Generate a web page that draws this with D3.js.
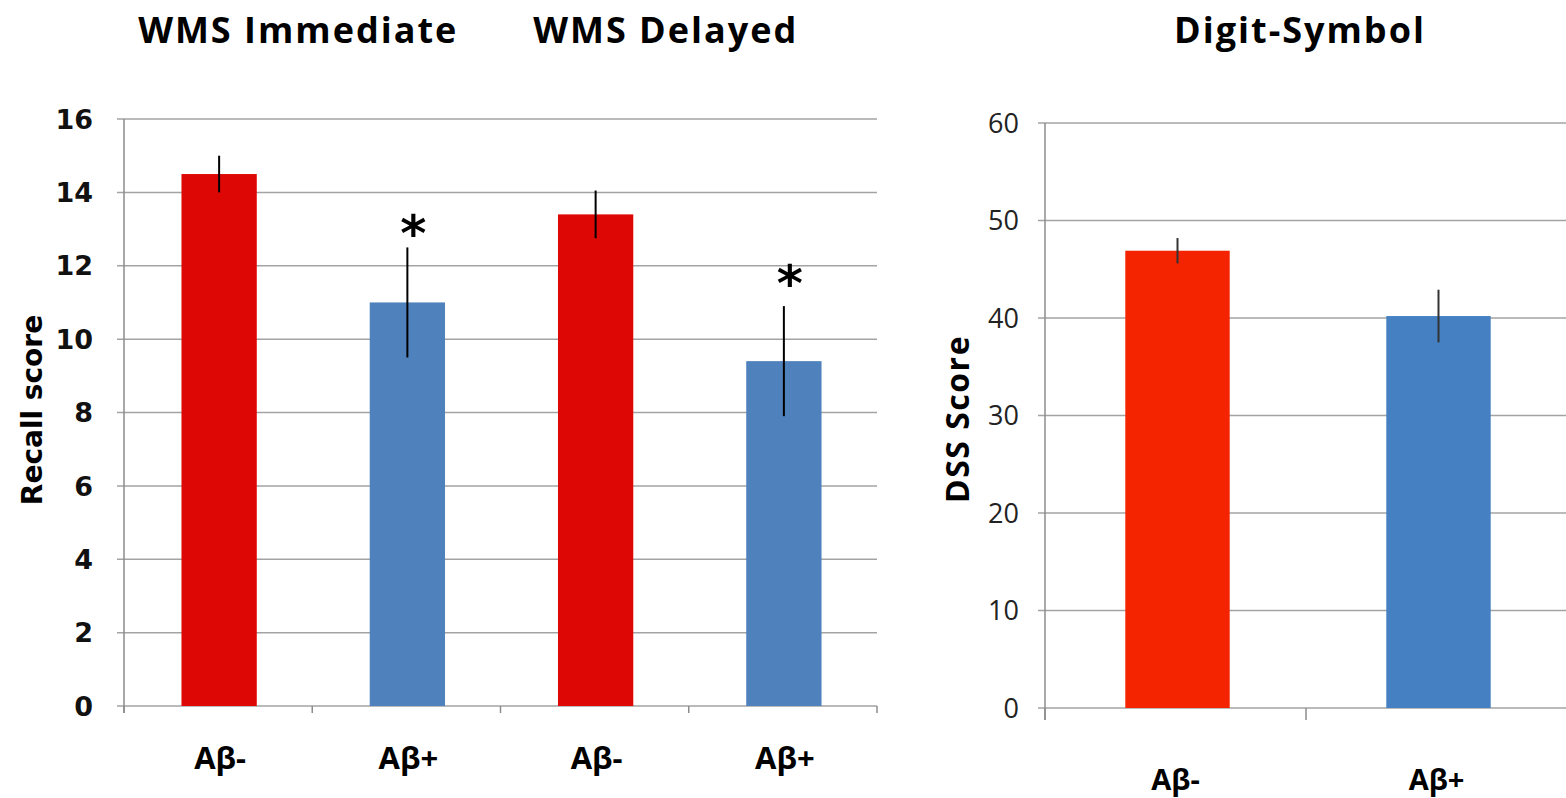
<!doctype html>
<html lang="en">
<head>
<meta charset="utf-8">
<title>WMS recall and Digit-Symbol scores</title>
<script src="https://cdnjs.cloudflare.com/ajax/libs/d3/7.8.5/d3.min.js"></script>
<style>
  body { margin: 0; background: #fff; }
  svg { display: block; }
  .grid line { stroke: #a3a3a3; stroke-width: 1.5; }
</style>
</head>
<body>
<svg width="1566" height="798"></svg>
<script>
// ---- data ----
// left panel: WMS recall
var recallGroups = ["WMS Immediate", "WMS Delayed"];
var recallCats = ["Aβ-", "Aβ+", "Aβ-", "Aβ+"];
var recallMeans = [14.5, 11.0, 13.4, 9.4];
var recallErr = [0.5, 1.5, 0.65, 1.5];
var recallSig = [false, true, false, true];
var recallTicks = [0, 2, 4, 6, 8, 10, 12, 14, 16];

// right panel: Digit-Symbol
var dssTitle = "Digit-Symbol";
var dssCats = ["Aβ-", "Aβ+"];
var dssMeans = [46.9, 40.2];
var dssErr = [1.3, 2.7];
var dssTicks = [0, 10, 20, 30, 40, 50, 60];

var svg = d3.select("svg");

// ---- left panel ----
var xL = d3.scaleBand()
    .domain(d3.range(recallCats.length))
    .range([124, 877]);
var yL = d3.scaleLinear()
    .domain([0, 16])
    .range([706, 119]);
var colL = ["#dd0805", "#4f81bd"];

var left = svg.append("g");

// gridlines
left.append("g").attr("class", "grid")
  .selectAll("line")
  .data(recallTicks)
  .enter().append("line")
    .attr("x1", 117).attr("x2", 877)
    .attr("y1", function(d) { return yL(d); })
    .attr("y2", function(d) { return yL(d); });

// y axis line
left.append("line")
    .attr("x1", 124).attr("x2", 124)
    .attr("y1", yL(16)).attr("y2", yL(0) + 7)
    .attr("stroke", "#8c8c8c").attr("stroke-width", 1.5);

// x tick marks at band edges
left.append("g")
  .selectAll("line")
  .data(d3.range(recallCats.length + 1))
  .enter().append("line")
    .attr("x1", function(i) { return i < recallCats.length ? xL(i) : xL.range()[1]; })
    .attr("x2", function(i) { return i < recallCats.length ? xL(i) : xL.range()[1]; })
    .attr("y1", yL(0)).attr("y2", yL(0) + 7)
    .attr("stroke", "#8c8c8c").attr("stroke-width", 1.5);

// y tick labels
left.append("g")
  .selectAll("text")
  .data(recallTicks)
  .enter().append("text")
    .attr("x", 93)
    .attr("y", function(d) { return yL(d); })
    .attr("dy", "0.36em")
    .attr("text-anchor", "end")
    .attr("font-family", "DejaVu Sans")
    .attr("font-weight", "bold")
    .attr("font-size", 27)
    .attr("fill", "#111")
    .text(function(d) { return d; });

// bars
var bwL = xL.bandwidth() * 0.4;
left.append("g")
  .selectAll("rect")
  .data(recallMeans)
  .enter().append("rect")
    .attr("x", function(d, i) { return xL(i) + xL.bandwidth() / 2 - bwL / 2 + 1; })
    .attr("y", function(d) { return yL(d); })
    .attr("width", bwL)
    .attr("height", function(d) { return yL(0) - yL(d); })
    .attr("fill", function(d, i) { return colL[i % 2]; });

// error bars
left.append("g")
  .selectAll("line")
  .data(recallMeans)
  .enter().append("line")
    .attr("x1", function(d, i) { return xL(i) + xL.bandwidth() / 2 + 1; })
    .attr("x2", function(d, i) { return xL(i) + xL.bandwidth() / 2 + 1; })
    .attr("y1", function(d, i) { return yL(d + recallErr[i]); })
    .attr("y2", function(d, i) { return yL(d - recallErr[i]); })
    .attr("stroke", "#000").attr("stroke-width", 2);

// significance stars
left.append("g")
  .selectAll("text")
  .data(recallMeans.map(function(d, i) { return {v: d + recallErr[i], i: i}; })
    .filter(function(d) { return recallSig[d.i]; }))
  .enter().append("text")
    .attr("x", function(d) { return xL(d.i) + xL.bandwidth() / 2 + 7; })
    .attr("y", function(d, k) { return yL(d.v) + (k === 0 ? 4 : -5); })
    .attr("text-anchor", "middle")
    .attr("font-family", "DejaVu Sans")
    .attr("font-weight", "bold")
    .attr("font-size", 50)
    .attr("fill", "#000")
    .text("*");

// x labels
left.append("g")
  .selectAll("text")
  .data(recallCats)
  .enter().append("text")
    .attr("x", function(d, i) { return xL(i) + xL.bandwidth() / 2 + 2; })
    .attr("y", 769)
    .attr("text-anchor", "middle")
    .attr("font-family", "Open Sans")
    .attr("font-weight", "bold")
    .attr("font-size", 31)
    .attr("fill", "#000")
    .text(function(d) { return d; });

// group titles, centred over each pair of bars
var titleShift = [-14, -23];
left.append("g")
  .selectAll("text")
  .data(recallGroups)
  .enter().append("text")
    .attr("x", function(d, i) { return xL(i * 2) + xL.bandwidth() + titleShift[i]; })
    .attr("y", 43)
    .attr("text-anchor", "middle")
    .attr("font-family", "Open Sans")
    .attr("font-weight", "bold")
    .attr("font-size", 36)
    .attr("letter-spacing", 2)
    .attr("fill", "#000")
    .text(function(d) { return d; });

// y label
left.append("text")
    .attr("transform", "translate(42,410) rotate(-90)")
    .attr("text-anchor", "middle")
    .attr("font-family", "DejaVu Sans")
    .attr("font-weight", "bold")
    .attr("font-size", 28)
    .attr("fill", "#000")
    .text("Recall score");

// ---- right panel ----
var xR = d3.scaleBand()
    .domain(d3.range(dssCats.length))
    .range([1045, 1567]);
var yR = d3.scaleLinear()
    .domain([0, 60])
    .range([708, 123]);
var colR = ["#f42300", "#4480c2"];

var right = svg.append("g");

right.append("g").attr("class", "grid")
  .selectAll("line")
  .data(dssTicks)
  .enter().append("line")
    .attr("x1", 1038).attr("x2", 1566)
    .attr("y1", function(d) { return yR(d); })
    .attr("y2", function(d) { return yR(d); });

right.append("line")
    .attr("x1", 1045).attr("x2", 1045)
    .attr("y1", yR(60)).attr("y2", yR(0) + 12)
    .attr("stroke", "#8c8c8c").attr("stroke-width", 1.5);

right.append("g")
  .selectAll("line")
  .data(d3.range(dssCats.length))
  .enter().append("line")
    .attr("x1", function(i) { return xR(i); })
    .attr("x2", function(i) { return xR(i); })
    .attr("y1", yR(0)).attr("y2", yR(0) + 12)
    .attr("stroke", "#8c8c8c").attr("stroke-width", 1.5);

right.append("g")
  .selectAll("text")
  .data(dssTicks)
  .enter().append("text")
    .attr("x", 1019)
    .attr("y", function(d) { return yR(d); })
    .attr("dy", "0.36em")
    .attr("text-anchor", "end")
    .attr("font-family", "Open Sans")
    .attr("font-size", 27)
    .attr("fill", "#222")
    .text(function(d) { return d; });

var bwR = xR.bandwidth() * 0.4;
right.append("g")
  .selectAll("rect")
  .data(dssMeans)
  .enter().append("rect")
    .attr("x", function(d, i) { return xR(i) + xR.bandwidth() / 2 - bwR / 2 + 2; })
    .attr("y", function(d) { return yR(d); })
    .attr("width", bwR)
    .attr("height", function(d) { return yR(0) - yR(d); })
    .attr("fill", function(d, i) { return colR[i]; });

right.append("g")
  .selectAll("line")
  .data(dssMeans)
  .enter().append("line")
    .attr("x1", function(d, i) { return xR(i) + xR.bandwidth() / 2 + 2; })
    .attr("x2", function(d, i) { return xR(i) + xR.bandwidth() / 2 + 2; })
    .attr("y1", function(d, i) { return yR(d + dssErr[i]); })
    .attr("y2", function(d, i) { return yR(d - dssErr[i]); })
    .attr("stroke", "#333").attr("stroke-width", 2);

right.append("g")
  .selectAll("text")
  .data(dssCats)
  .enter().append("text")
    .attr("x", function(d, i) { return xR(i) + xR.bandwidth() / 2; })
    .attr("y", 790)
    .attr("text-anchor", "middle")
    .attr("font-family", "Open Sans")
    .attr("font-weight", "bold")
    .attr("font-size", 29)
    .attr("fill", "#000")
    .text(function(d) { return d; });

right.append("text")
    .attr("x", 1300)
    .attr("y", 43)
    .attr("text-anchor", "middle")
    .attr("font-family", "Open Sans")
    .attr("font-weight", "bold")
    .attr("font-size", 36)
    .attr("letter-spacing", 2)
    .attr("fill", "#000")
    .text(dssTitle);

right.append("text")
    .attr("transform", "translate(969,419) rotate(-90)")
    .attr("text-anchor", "middle")
    .attr("font-family", "Open Sans")
    .attr("font-weight", "bold")
    .attr("font-size", 32)
    .attr("letter-spacing", 1.5)
    .attr("fill", "#000")
    .text("DSS Score");
</script>
</body>
</html>
